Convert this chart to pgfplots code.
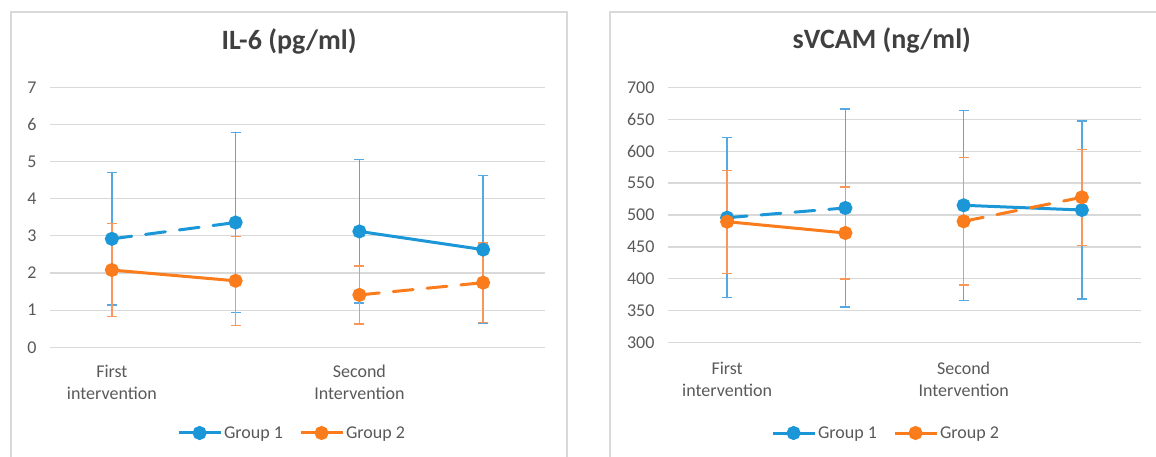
\documentclass[border=0pt]{standalone}
\usepackage{pgfplots}
\pgfplotsset{compat=1.18}
\usepackage{fontspec}
\setmainfont{Carlito}
\definecolor{gblue}{RGB}{27,150,214}
\definecolor{gorange}{RGB}{250,124,28}
\definecolor{eblue}{RGB}{85,168,226}
\definecolor{eorange}{RGB}{250,150,90}
\definecolor{gridc}{RGB}{217,217,217}
\definecolor{txt}{RGB}{89,89,89}
\definecolor{ttl}{RGB}{64,64,64}

\pgfplotsset{
  panel/.style={
    scale only axis, xmin=-0.5, xmax=3.5,
    axis line style={draw=none}, major tick length=0pt,
    ymajorgrids, major grid style={gridc, line width=1.2pt},
    xtick={0,2},
    xticklabel style={align=center, text=txt, font=\fontsize{18}{22}\selectfont, anchor=north},
    yticklabel style={text=txt, font=\fontsize{18}{22}\selectfont, anchor=east, xshift=-10pt},
    /pgf/number format/assume math mode=true,
    clip=false,
    title style={font=\fontsize{28}{32}\selectfont\bfseries, text=ttl, anchor=center},
    legend style={draw=none, fill=none, legend columns=2, font=\fontsize{18}{22}\selectfont, text=txt,
      /tikz/every even column/.append style={column sep=14pt}, inner sep=0pt},
    legend cell align=left,
    legend image code/.code={\draw[mark repeat=2,mark phase=2,##1] plot coordinates {(0pt,0pt) (21pt,0pt) (42pt,0pt)};},
  },
  g1/.style={gblue, line width=3pt, mark=*, mark size=5.5pt, mark options={solid, fill=gblue},
    error bars/y dir=both, error bars/y explicit,
    error bars/error bar style={eblue, line width=1.3pt, solid},
    error bars/error mark options={rotate=90, mark size=5pt, eblue, line width=1.3pt, solid}},
  g2/.style={gorange, line width=3pt, mark=*, mark size=5.5pt, mark options={solid, fill=gorange},
    error bars/y dir=both, error bars/y explicit,
    error bars/error bar style={eorange, line width=1.3pt, solid},
    error bars/error mark options={rotate=90, mark size=5pt, eorange, line width=1.3pt, solid}},
  dsh/.style={dash pattern=on 20pt off 14pt, line cap=round},
}

\pgfplotstableread{
x y e
0 2.92 1.78
1 3.36 2.43
}\ilAa
\pgfplotstableread{
x y e
2 3.12 1.93
3 2.63 1.99
}\ilAb
\pgfplotstableread{
x y e
0 2.08 1.25
1 1.79 1.20
}\ilBa
\pgfplotstableread{
x y e
2 1.41 0.78
3 1.74 1.07
}\ilBb

\pgfplotstableread{
x y e
0 495.8 125.3
1 511.0 155.0
}\svAa
\pgfplotstableread{
x y e
2 515.2 149.0
3 507.8 139.5
}\svAb
\pgfplotstableread{
x y e
0 489.5 80.7
1 471.8 72.0
}\svBa
\pgfplotstableread{
x y e
2 490.1 99.7
3 527.7 75.2
}\svBb

\begin{document}
\begin{tikzpicture}
\useasboundingbox (0pt,0pt) rectangle (1156pt,457pt);
\draw[gridc, line width=1.5pt] (11pt,-5pt) -- (11pt,445pt) -- (567pt,445pt) -- (567pt,-5pt);
\draw[gridc, line width=1.5pt] (610pt,-5pt) -- (610pt,445pt) -- (1170pt,445pt);

\begin{axis}[panel,
  at={(50pt,109.7pt)}, anchor=south west, width=495pt, height=260pt,
  ymin=0, ymax=7, ytick={0,1,...,7},
  xticklabels={First\\intervention, Second\\Intervention},
  xticklabel style={yshift=-14pt},
  title={IL-6 (pg/ml)}, title style={at={(0.483,1.155)}},
  legend style={at={(0.489,-0.3296)}, anchor=center},
]
\addlegendimage{gblue, line width=3pt, mark=*, mark size=5.5pt}
\addlegendentry{Group 1}
\addlegendimage{gorange, line width=3pt, mark=*, mark size=5.5pt}
\addlegendentry{Group 2}
\addplot[g1, dsh, forget plot] table[x=x, y=y, y error=e] {\ilAa};
\addplot[g1, forget plot] table[x=x, y=y, y error=e] {\ilAb};
\addplot[g2, forget plot] table[x=x, y=y, y error=e] {\ilBa};
\addplot[g2, dsh, forget plot] table[x=x, y=y, y error=e] {\ilBb};
\end{axis}

\begin{axis}[panel,
  at={(668pt,114.3pt)}, anchor=south west, width=473pt, height=255.4pt,
  ymin=300, ymax=700, ytick={300,350,...,700},
  xticklabels={First\\intervention, Second\\Intervention},
  xticklabel style={yshift=-16pt},
  title={sVCAM (ng/ml)}, title style={at={(0.452,1.158)}},
  legend style={at={(0.461,-0.3536)}, anchor=center},
]
\addlegendimage{gblue, line width=3pt, mark=*, mark size=5.5pt}
\addlegendentry{Group 1}
\addlegendimage{gorange, line width=3pt, mark=*, mark size=5.5pt}
\addlegendentry{Group 2}
\addplot[g1, dsh, forget plot] table[x=x, y=y, y error=e] {\svAa};
\addplot[g1, forget plot] table[x=x, y=y, y error=e] {\svAb};
\addplot[g2, forget plot] table[x=x, y=y, y error=e] {\svBa};
\addplot[g2, dsh, forget plot] table[x=x, y=y, y error=e] {\svBb};
\end{axis}
\end{tikzpicture}
\end{document}
